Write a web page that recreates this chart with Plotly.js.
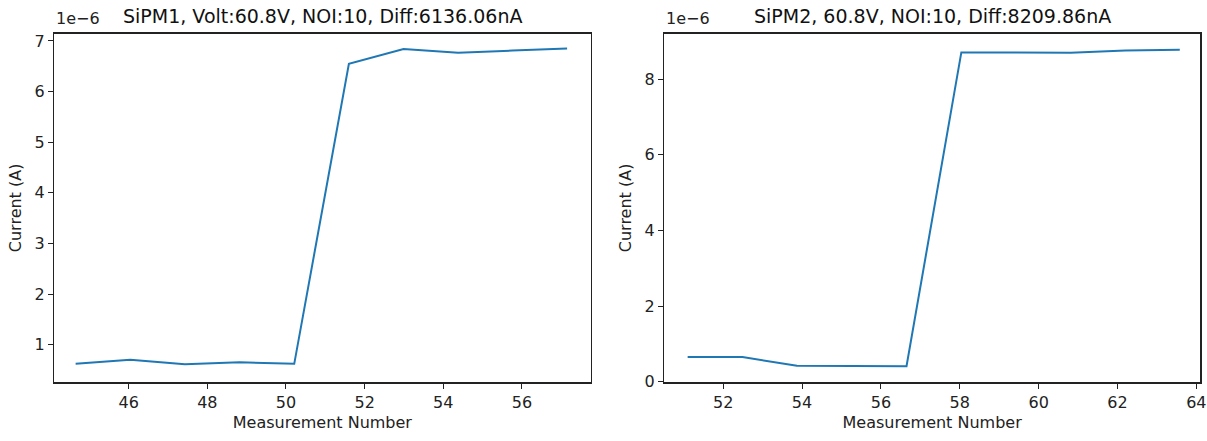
<!DOCTYPE html>
<html>
<head>
<meta charset="utf-8">
<script src="https://cdn.plot.ly/plotly-3.0.1.min.js"></script>
<style>
  html, body { margin: 0; padding: 0; background: #fff; }
  #chart { width: 1207px; height: 441px; }
</style>
</head>
<body>
<div id="chart"></div>
<script>
// Measurement numbers (x) and currents in units of 1e-6 A (y)
const measurementSipm1 = [44.65, 46.04, 47.43, 48.82, 50.21, 51.60, 52.99, 54.38, 55.76, 57.15];
const currentSipm1 = [0.62, 0.70, 0.61, 0.65, 0.62, 6.55, 6.84, 6.77, 6.81, 6.85];

const measurementSipm2 = [51.10, 52.49, 53.87, 55.26, 56.65, 58.04, 59.42, 60.81, 62.20, 63.58];
const currentSipm2 = [0.65, 0.65, 0.42, 0.42, 0.41, 8.71, 8.71, 8.70, 8.76, 8.78];

const titleSipm1 = "SiPM1, Volt:60.8V, NOI:10, Diff:6136.06nA";
const titleSipm2 = "SiPM2, 60.8V, NOI:10, Diff:8209.86nA";
const xTitle = "Measurement Number";
const yTitle = "Current (A)";
const offsetText = "1e\u22126";

const W = 1207, H = 441;
const FONT = "DejaVu Sans, sans-serif";
const lineColor = "#1f77b4";

const traces = [
  { x: measurementSipm1, y: currentSipm1, type: "scatter", mode: "lines",
    line: { color: lineColor, width: 2 }, xaxis: "x", yaxis: "y", showlegend: false, hoverinfo: "x+y" },
  { x: measurementSipm2, y: currentSipm2, type: "scatter", mode: "lines",
    line: { color: lineColor, width: 2 }, xaxis: "x2", yaxis: "y2", showlegend: false, hoverinfo: "x+y" }
];

const yTop = 1 - 33.5 / H, yBot = 1 - 382.3 / H;
const axCommon = {
  showline: true, mirror: true, linecolor: "#222", linewidth: 1.2,
  ticks: "outside", ticklen: 5, tickwidth: 1, tickcolor: "#222",
  showgrid: false, zeroline: false,
  tickfont: { family: FONT, size: 16, color: "#222" },
  automargin: false
};

const layout = {
  width: W, height: H,
  margin: { l: 0, r: 0, t: 0, b: 0, pad: 0 },
  paper_bgcolor: "#fff", plot_bgcolor: "#fff",
  font: { family: FONT, color: "#222" },
  xaxis: Object.assign({}, axCommon, {
    domain: [54 / W, 590.7 / W], range: [44.1, 57.75],
    tickvals: [46, 48, 50, 52, 54, 56], anchor: "y",
    title: { text: xTitle, font: { family: FONT, size: 16, color: "#222" }, standoff: 6 }
  }),
  yaxis: Object.assign({}, axCommon, {
    domain: [yBot, yTop], range: [0.255, 7.148],
    tickvals: [1, 2, 3, 4, 5, 6, 7], anchor: "x",
    title: { text: yTitle, font: { family: FONT, size: 16, color: "#222" }, standoff: 8 }
  }),
  xaxis2: Object.assign({}, axCommon, {
    domain: [664 / W, 1200.3 / W], range: [50.5, 64.1],
    tickvals: [52, 54, 56, 58, 60, 62, 64], anchor: "y2",
    title: { text: xTitle, font: { family: FONT, size: 16, color: "#222" }, standoff: 6 }
  }),
  yaxis2: Object.assign({}, axCommon, {
    domain: [yBot, yTop], range: [-0.016, 9.21],
    tickvals: [0, 2, 4, 6, 8], anchor: "x2",
    title: { text: yTitle, font: { family: FONT, size: 16, color: "#222" }, standoff: 8 }
  }),
  annotations: [
    { text: titleSipm1, xref: "paper", yref: "paper", x: (54 + 590.7) / 2 / W, y: 1 - 16 / H,
      xanchor: "center", yanchor: "middle", showarrow: false,
      font: { family: FONT, size: 19, color: "#111" } },
    { text: titleSipm2, xref: "paper", yref: "paper", x: (664 + 1200.3) / 2 / W, y: 1 - 16 / H,
      xanchor: "center", yanchor: "middle", showarrow: false,
      font: { family: FONT, size: 19, color: "#111" } },
    { text: offsetText, xref: "paper", yref: "paper", x: 54 / W, y: 1 - 19 / H,
      xanchor: "left", yanchor: "middle", showarrow: false,
      font: { family: FONT, size: 16, color: "#222" } },
    { text: offsetText, xref: "paper", yref: "paper", x: 664 / W, y: 1 - 19 / H,
      xanchor: "left", yanchor: "middle", showarrow: false,
      font: { family: FONT, size: 16, color: "#222" } }
  ]
};

Plotly.newPlot("chart", traces, layout, { displayModeBar: false, staticPlot: true });
</script>
</body>
</html>
